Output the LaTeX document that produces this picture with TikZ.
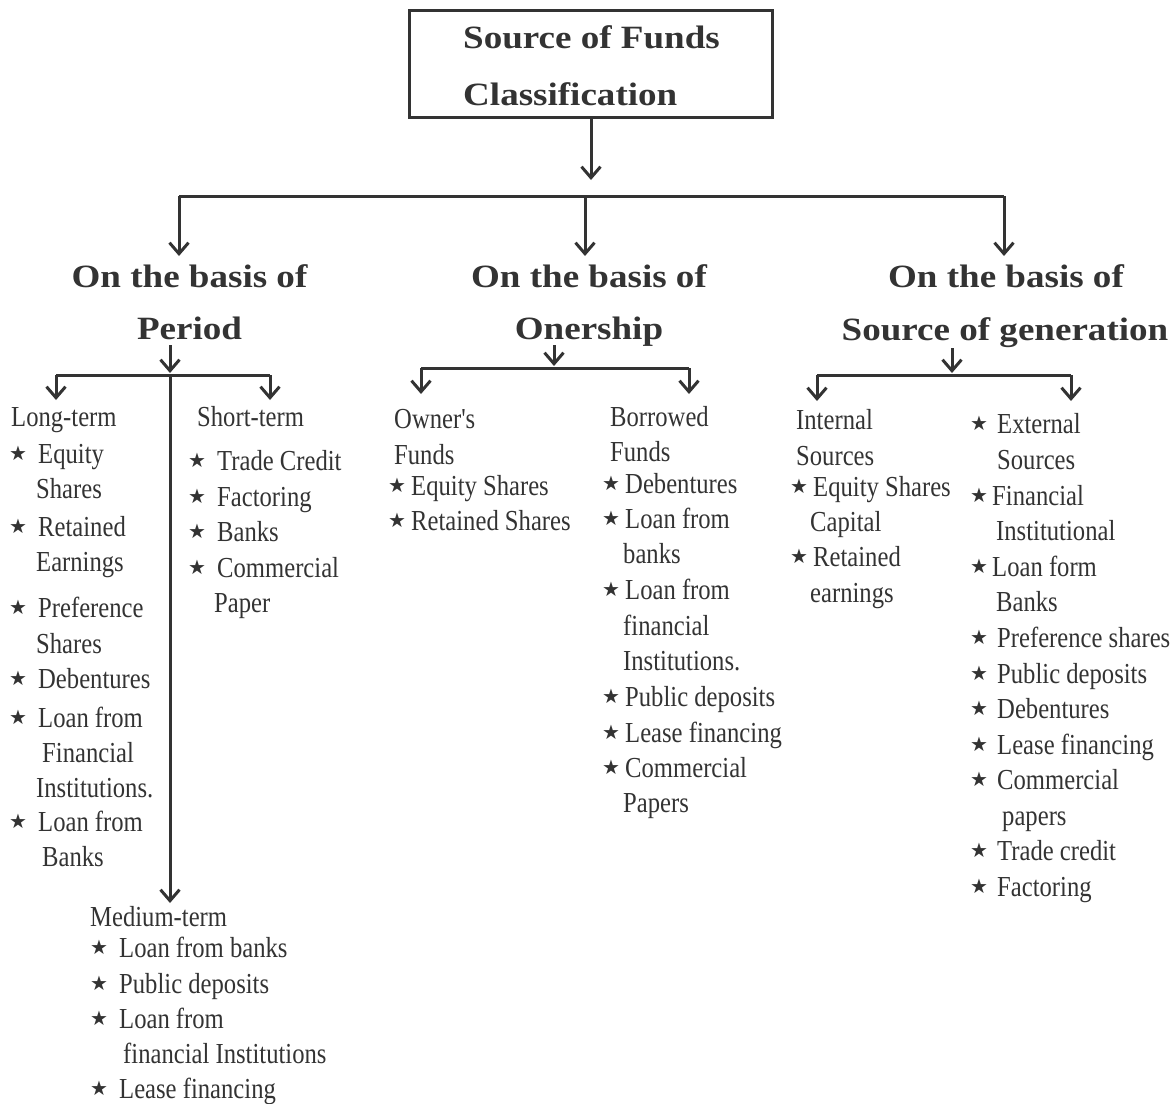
\documentclass[tikz,border=0pt]{standalone}
\usepackage{fontspec}
\setmainfont{Liberation Serif}
\newfontfamily\bodyfont[FakeStretch=0.85]{Liberation Serif}
\newfontfamily\headfont[FakeStretch=1.14]{Liberation Serif}
\newfontfamily\symfont{DejaVu Sans}
\usetikzlibrary{arrows.meta}
\definecolor{ink}{HTML}{333333}
\newcommand\starsym{★}
\newcommand\li[5]{\node[st] (#1s) at (#2+6,#4-10) {\starsym}; \node[tx] (#1) at (#3,#4) {#5};}
\newcommand\lt[4]{\node[tx] (#1) at (#2,#3) {#4};}
\begin{document}
\begin{tikzpicture}[x=1pt,y=-1pt,
  conn/.style={draw=ink,line width=3pt},
  arr/.style={conn,-{Straight Barb[length=11pt,width=19pt]}},
  tx/.style={anchor=base west,inner sep=0pt,text=ink,font=\bodyfont\fontsize{29}{34}\selectfont},
  hd/.style={anchor=base,inner sep=0pt,text=ink,font=\headfont\bfseries\fontsize{32.5}{40}\selectfont},
  st/.style={anchor=center,inner sep=0pt,text=ink,font=\symfont\fontsize{20}{20}\selectfont},
  titlebox/.style={draw=ink,line width=3pt,minimum width=363pt,minimum height=107pt,inner sep=0pt}]
\useasboundingbox (0,0) rectangle (1175,1103);

% title
\node[titlebox] (title) at (590.5,63.5) {};
\node[hd,anchor=base west] (t1) at (463,48) {Source of Funds};
\node[hd,anchor=base west] (t2) at (463,105) {Classification};

% top level connectors
\coordinate (tarr) at (591,180);
\coordinate (barL) at (179,196);
\coordinate (barM) at (585,196);
\coordinate (barR) at (1004,196);
\draw[arr] (title.south -| tarr) -- (tarr);
\draw[conn] (barL) -- (barR);

% headings
\node[hd] (h1a) at (189.5,287) {On the basis of};
\node[hd] (h1b) at (189.5,339) {Period};
\node[hd] (h2a) at (589,287) {On the basis of};
\node[hd] (h2b) at (589,339) {Onership};
\node[hd] (h3a) at (1006,287) {On the basis of};
\node[hd] (h3b) at (1005,340) {Source of generation};

\coordinate (dL) at (179,256);
\coordinate (dM) at (585,256);
\coordinate (dR) at (1004,256);
\draw[arr] (barL) -- (dL);
\draw[arr] (barM) -- (dM);
\draw[arr] (barR) -- (dR);

% left branch
\coordinate (pTop) at (170,345);
\coordinate (pTip) at (170,373);
\coordinate (pJ) at (170,375);
\coordinate (pL) at (56,375);
\coordinate (pR) at (270,375);
\coordinate (pLd) at (56,400);
\coordinate (pRd) at (270,400);
\coordinate (pMd) at (170,903);
\draw[arr] (pTop) -- (pTip);
\draw[conn] (pL) -- (pR);
\draw[arr] (pL) -- (pLd);
\draw[arr] (pR) -- (pRd);
\draw[arr] (pJ) -- (pMd);

% middle branch
\coordinate (oTop) at (554,345);
\coordinate (oTip) at (554,366);
\coordinate (oL) at (421,368);
\coordinate (oR) at (689,368);
\coordinate (oLd) at (421,394);
\coordinate (oRd) at (689,394);
\draw[arr] (oTop) -- (oTip);
\draw[conn] (oL) -- (oR);
\draw[arr] (oL) -- (oLd);
\draw[arr] (oR) -- (oRd);

% right branch
\coordinate (sTop) at (952,348);
\coordinate (sTip) at (952,373);
\coordinate (sL) at (817,375);
\coordinate (sR) at (1071,375);
\coordinate (sLd) at (817,401);
\coordinate (sRd) at (1071,401);
\draw[arr] (sTop) -- (sTip);
\draw[conn] (sL) -- (sR);
\draw[arr] (sL) -- (sLd);
\draw[arr] (sR) -- (sRd);

% Long-term
\lt{lt}{11}{426}{Long-term}
\li{lt1}{12}{38}{463}{Equity}
\lt{lt1b}{36}{498}{Shares}
\li{lt2}{12}{38}{536}{Retained}
\lt{lt2b}{36}{571}{Earnings}
\li{lt3}{12}{38}{617}{Preference}
\lt{lt3b}{36}{653}{Shares}
\li{lt4}{12}{38}{688}{Debentures}
\li{lt5}{12}{38}{727}{Loan from}
\lt{lt5b}{42}{762}{Financial}
\lt{lt5c}{36}{797}{Institutions.}
\li{lt6}{12}{38}{831}{Loan from}
\lt{lt6b}{42}{866}{Banks}

% Short-term
\lt{sh}{197}{426}{Short-term}
\li{sh1}{191}{217}{470}{Trade Credit}
\li{sh2}{191}{217}{506}{Factoring}
\li{sh3}{191}{217}{541}{Banks}
\li{sh4}{191}{217}{577}{Commercial}
\lt{sh4b}{214}{612}{Paper}

% Medium-term
\lt{md}{90}{926}{Medium-term}
\li{md1}{93}{119}{957}{Loan from banks}
\li{md2}{93}{119}{993}{Public deposits}
\li{md3}{93}{119}{1028}{Loan from}
\lt{md3b}{123}{1063}{financial Institutions}
\li{md4}{93}{119}{1098}{Lease financing}

% Owner's funds
\lt{ow}{394}{428}{Owner's}
\lt{owb}{394}{464}{Funds}
\li{ow1}{391}{411}{495}{Equity Shares}
\li{ow2}{391}{411}{530}{Retained Shares}

% Borrowed funds
\lt{bo}{610}{426}{Borrowed}
\lt{bob}{610}{461}{Funds}
\li{bo1}{605}{625}{493}{Debentures}
\li{bo2}{605}{625}{528}{Loan from}
\lt{bo2b}{623}{563}{banks}
\li{bo3}{605}{625}{599}{Loan from}
\lt{bo3b}{623}{635}{financial}
\lt{bo3c}{623}{670}{Institutions.}
\li{bo4}{605}{625}{706}{Public deposits}
\li{bo5}{605}{625}{742}{Lease financing}
\li{bo6}{605}{625}{777}{Commercial}
\lt{bo6b}{623}{812}{Papers}

% Internal sources
\lt{in}{796}{429}{Internal}
\lt{inb}{796}{465}{Sources}
\li{in1}{793}{813}{496}{Equity Shares}
\lt{in1b}{810}{531}{Capital}
\li{in2}{793}{813}{566}{Retained}
\lt{in2b}{810}{602}{earnings}

% External sources
\li{ex1}{973}{997}{433}{External}
\lt{ex1b}{997}{469}{Sources}
\li{ex2}{973}{992}{505}{Financial}
\lt{ex2b}{996}{540}{Institutional}
\li{ex3}{973}{992}{576}{Loan form}
\lt{ex3b}{996}{611}{Banks}
\li{ex4}{973}{997}{647}{Preference shares}
\li{ex5}{973}{997}{683}{Public deposits}
\li{ex6}{973}{997}{718}{Debentures}
\li{ex7}{973}{997}{754}{Lease financing}
\li{ex8}{973}{997}{789}{Commercial}
\lt{ex8b}{1002}{825}{papers}
\li{ex9}{973}{997}{860}{Trade credit}
\li{ex10}{973}{997}{896}{Factoring}
\end{tikzpicture}
\end{document}
